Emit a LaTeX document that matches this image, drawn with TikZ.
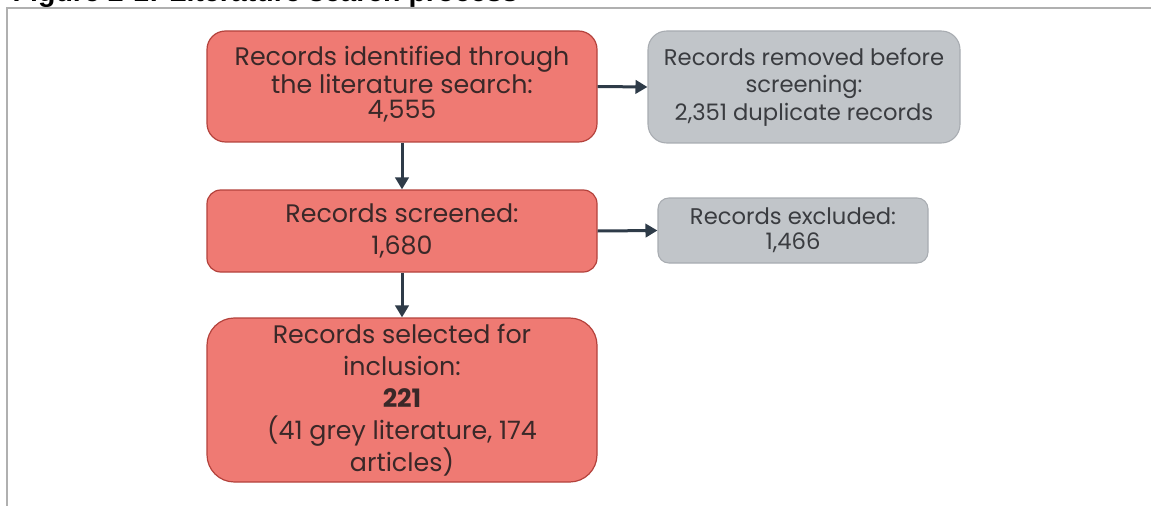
\documentclass[tikz,border=0pt]{standalone}
\usepackage{fontspec}
\setmainfont{Poppins}
\newfontfamily\titlefont{Liberation Sans}
\usetikzlibrary{arrows.meta}

\definecolor{StageFill}{HTML}{EF7A73}
\definecolor{StageLine}{HTML}{B4423C}
\definecolor{StageText}{HTML}{3A2828}
\definecolor{SideFill}{HTML}{C1C5C9}
\definecolor{SideLine}{HTML}{A8ACB1}
\definecolor{SideText}{HTML}{3A3C40}
\definecolor{FlowLine}{HTML}{2E3B48}
\definecolor{FrameLine}{HTML}{B0B0B0}
\newcommand\boxfont[2]{\fontsize{#1}{#2}\selectfont}

\begin{document}
\begin{tikzpicture}[x=0.75pt, y=-0.75pt,
  stagebox/.style={draw=StageLine, fill=StageFill, line width=0.9pt,
    inner sep=0pt, align=center, text=StageText, font=\boxfont{19pt}{24pt}},
  sidebox/.style={draw=SideLine, fill=SideFill, line width=0.8pt,
    inner sep=0pt, align=center, text=SideText, font=\boxfont{17pt}{20.5pt}},
  flow/.style={draw=FlowLine, line width=2.25pt, -{Triangle[length=9pt,width=10pt]}}]

\useasboundingbox (0,0) rectangle (1151,506);
\clip (0,0) rectangle (1151,506);

% Figure caption and frame
\node[anchor=base west, font=\titlefont\bfseries\fontsize{21.4pt}{26pt}\selectfont]
  (caption) at (8,1.5) {Figure 2-1: Literature search process};
\draw[FrameLine, line width=1.5pt] (1151,8.5) -- (7,8.5) -- (7,506);

\node[stagebox, font=\boxfont{19pt}{19pt}, rounded corners=13.9pt,
  minimum width=292.5pt, minimum height=83.25pt, text depth=6pt]
  (identified) at (402,86.5)
  {Records identified through\\the literature search:\\4,555};
\node[sidebox, rounded corners=14pt, minimum width=234pt, minimum height=84pt]
  (removed) at (804,87)
  {Records removed before\\screening:\\2,351 duplicate records};
\node[stagebox, rounded corners=10.3pt, minimum width=292.5pt, minimum height=61.5pt]
  (screened) at (402,231) {Records screened:\\1,680};
\node[sidebox, font=\boxfont{17pt}{19pt}, rounded corners=8.1pt,
  minimum width=202.5pt, minimum height=48.75pt]
  (excluded) at (793,230.5) {Records excluded:\\1,466};
\node[stagebox, rounded corners=20.5pt, minimum width=292.5pt, minimum height=123pt]
  (selected) at (402,400)
  {Records selected for\\inclusion:\\\textbf{221}\\(41 grey literature, 174\\articles)};

\draw[flow] (identified.east) -- (removed.west);
\draw[flow] (identified.south) -- (screened.north);
\draw[flow] (screened.east) -- (excluded.west);
\draw[flow] (screened.south) -- (selected.north);

\end{tikzpicture}
\end{document}
